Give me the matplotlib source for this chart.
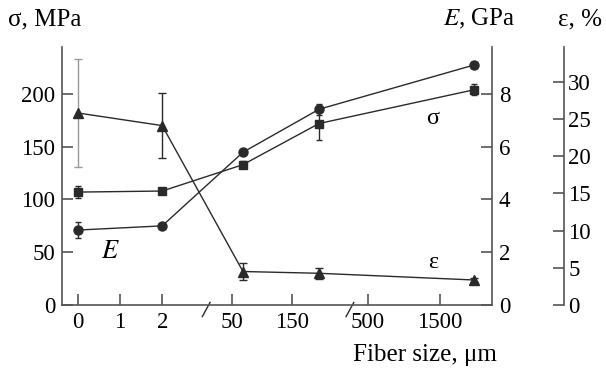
import matplotlib
matplotlib.use("Agg")
import matplotlib.pyplot as plt
from matplotlib.lines import Line2D

plt.rcParams['font.family'] = ['Liberation Serif', 'DejaVu Serif']
plt.rcParams['mathtext.fontset'] = 'stix'

# x positions on the broken categorical axis (0, 2, then fibers between 50-150, 150-500, >1500)
x_pos = [0, 2, 3.91, 5.71, 9.38]
x_ticks = [0, 1, 2, 3.65, 5.06, 6.86, 8.56]
x_ticklabels = ['0', '1', '2', '50', '150', '500', '1500']

sigma = [107, 108, 133, 172, 204]      # MPa (squares)
sigma_err = [6, 0, 3, 16, 5]
E = [2.84, 3.0, 5.79, 7.42, 9.1]       # GPa (circles)
E_err = [0.3, 0, 0, 0.2, 0.1]
eps = [25.8, 24.1, 4.5, 4.26, 3.36]    # % (triangles)
eps_err = [7.3, 4.4, 1.1, 0.7, 0.3]

W, H = 606, 372
fig = plt.figure(figsize=(W/100, H/100), dpi=100)
L, R, B, T = 62, 492, 305, 47
ax = fig.add_axes([L/W, 1 - B/H, (R-L)/W, (B-T)/H])
ax2 = ax.twinx()
ax3 = ax.twinx()

line_c = '#2a2a2a'
spine_c = '#555555'
fs = 16.5
fs_t = 18

ax.set_xlim(-0.37, 9.8)
ax.set_ylim(0, 244.5)
ax2.set_ylim(0, 244.5 / 25)
ax3.set_ylim(0, 34.66)

# sigma (squares) on left axis
ax.errorbar(x_pos, sigma, yerr=sigma_err, color=line_c, lw=1, marker='s', ms=5.5,
            capsize=2.5, elinewidth=1, capthick=1, ecolor=line_c, zorder=3)
# E (circles) on E axis
ax2.errorbar(x_pos, E, yerr=E_err, color=line_c, lw=1, marker='o', ms=6.5,
             capsize=2.5, elinewidth=1, capthick=1, ecolor=line_c, zorder=3)
# eps (triangles)
ax3.plot(x_pos, eps, color=line_c, lw=1, marker='^', ms=6.5, zorder=3)
for i, (xv, yv, ev) in enumerate(zip(x_pos, eps, eps_err)):
    ax3.errorbar([xv], [yv], yerr=[ev], fmt='none', ecolor='#999999' if i == 0 else line_c,
                 elinewidth=1, capsize=3, capthick=1)

for a in (ax, ax2, ax3):
    a.spines['top'].set_visible(False)
    for s in a.spines.values():
        s.set_color(spine_c)
        s.set_linewidth(1.2)
ax.spines['right'].set_visible(False)
ax2.spines['left'].set_visible(False)
ax2.spines['bottom'].set_visible(False)
ax3.spines['left'].set_visible(False)
ax3.spines['bottom'].set_visible(False)
ax3.spines['right'].set_position(('axes', (564 - L) / (R - L)))

ax.set_yticks([0, 50, 100, 150, 200])
ax2.set_yticks([0, 2, 4, 6, 8])
ax3.set_yticks([0, 5, 10, 15, 20, 25, 30])
ax.set_xticks(x_ticks)
ax.set_xticklabels(x_ticklabels)

ax.tick_params(axis='y', direction='in', length=8, width=1.2, color=spine_c, labelsize=fs, pad=5)
ax.tick_params(axis='x', direction='in', length=8, width=1.2, color=spine_c, labelsize=fs, pad=5)
ax2.tick_params(axis='y', direction='in', length=8, width=1.2, color=spine_c, labelsize=fs, pad=5)
ax3.tick_params(axis='y', direction='in', length=8, width=1.2, color=spine_c, labelsize=fs, pad=3)

# axis break marks
for xb in (3.04, 6.44):
    xa = (xb + 0.37) / (9.8 + 0.37)
    ax.add_line(Line2D([xa - 0.009, xa + 0.009], [-0.045, 0.01], transform=ax.transAxes,
                       color=line_c, lw=1, clip_on=False))

fig.text(8/W, 1 - 19/H, 'σ, MPa', fontsize=fs_t, va='center', ha='left')
fig.text(515/W, 1 - 19/H, '$E$, GPa', fontsize=fs_t, va='center', ha='right')
fig.text(602/W, 1 - 19/H, 'ε, %', fontsize=fs_t, va='center', ha='right')
fig.text(497/W, 1 - 355/H, 'Fiber size, μm', fontsize=fs_t, va='center', ha='right')

fig.text(110/W, 1 - 252/H, '$E$', fontsize=19, va='center', ha='center')
fig.text(433/W, 1 - 119/H, 'σ', fontsize=fs + 1, va='center', ha='center')
fig.text(433/W, 1 - 263/H, 'ε', fontsize=fs + 1, va='center', ha='center')

fig.savefig('out.png', dpi=100)
